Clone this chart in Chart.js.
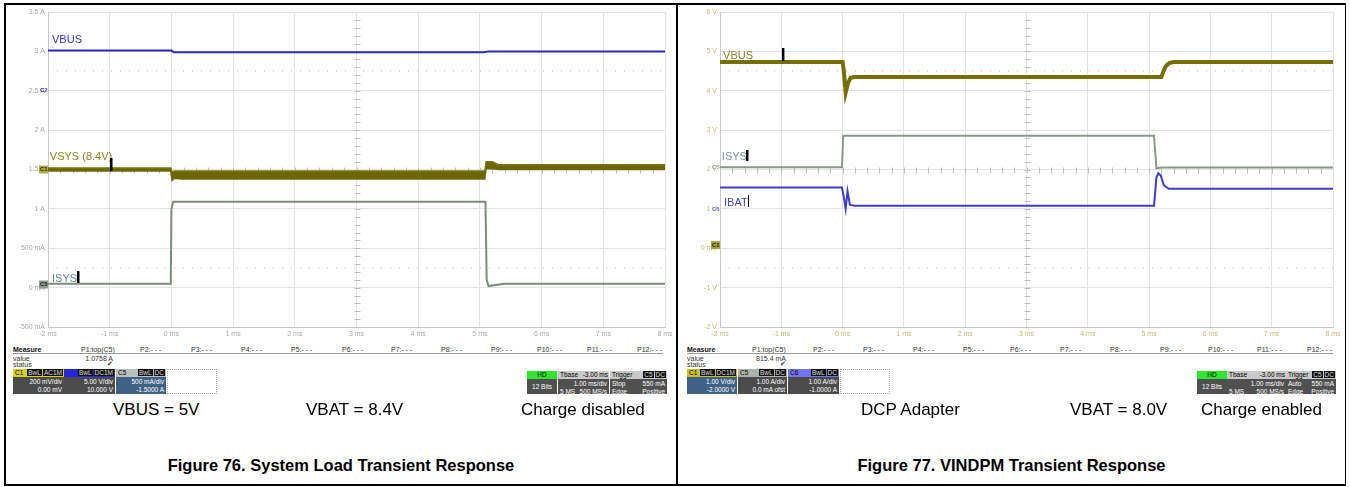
<!DOCTYPE html>
<html>
<head>
<meta charset="utf-8">
<script src="https://cdn.jsdelivr.net/npm/chart.js@4/dist/chart.umd.min.js"></script>
<style>
body{margin:0;width:1350px;height:487px;background:#fff;position:relative;overflow:hidden;font-family:Arial,"Liberation Sans",sans-serif}
.line{position:absolute;background:#000}
.cv{position:absolute}
.cap{position:absolute;font-size:17px;color:#000;white-space:nowrap;top:400px}
.title{position:absolute;font-size:16.5px;font-weight:bold;white-space:nowrap;top:456px;text-align:center}
.m{position:absolute;font-size:7px;color:#333;white-space:nowrap;line-height:7px}
.ul{position:absolute;height:1px;background:#999}
.ch{position:absolute;top:369px;height:25px;font-size:6.5px;overflow:hidden;white-space:nowrap}
.chh{height:8px;line-height:8px;padding:0 1px 0 2px;color:#000;display:flex;justify-content:space-between}
.tag{background:#111;color:#ddd;padding:0 1px;margin-left:1px}
.chb{height:16px;background:#4b4b4b;color:#fff;text-align:right;line-height:8px;padding:1px 2px 0 0}
</style>
</head>
<body>
<canvas id="left" class="cv" width="671" height="340" style="left:5px;top:4px"></canvas>
<canvas id="right" class="cv" width="664" height="340" style="left:680px;top:4px"></canvas>
<div id="extra"></div>

<script>
// --- left scope: system load transient (display units of the 500 mA/div grid)
const xTicks = [-2, -1, 0, 1, 2, 3, 4, 5, 6, 7, 8];
const leftYTicks = [-0.5, 0, 0.5, 1, 1.5, 2, 2.5, 3, 3.5];
const leftYLabels = ['-500 mA', '0 mA', '500 mA', '1 A', '1.5 A', '2 A', '2.5 A', '3 A', '3.5 A'];

const lVbusT = [-2, 0, 0.04, 5.06, 5.14, 8];
const lVbusV = [3.01, 3.01, 2.99, 2.99, 3.0, 3.0];

const lVsysT = [-2, -0.01, 0.01, 0.05, 0.15, 5.08, 5.1, 5.2, 5.3, 8];
const lVsysHi = [1.52, 1.52, 1.47, 1.48, 1.48, 1.48, 1.6, 1.6, 1.56, 1.56];
const lVsysLo = [1.48, 1.48, 1.36, 1.39, 1.38, 1.38, 1.51, 1.51, 1.5, 1.5];

const lIsysT = [-2, -0.01, 0.0, 0.03, 5.09, 5.11, 5.14, 5.4, 8];
const lIsysV = [0.05, 0.05, 1.0, 1.09, 1.09, 0.1, 0.02, 0.05, 0.05];

const leftDots = [2.75, 0.25];

// --- right scope: VINDPM transient (1 V/div grid)
const rightYTicks = [-2, -1, 0, 1, 2, 3, 4, 5, 6];
const rightYLabels = ['-2 V', '-1 V', '0 mV', '1 V', '2 V', '3 V', '4 V', '5 V', '6 V'];

const rVbusT = [-2, 0, 0.02, 0.05, 0.09, 0.13, 0.2, 5.2, 5.24, 5.28, 5.33, 5.4, 8];
const rVbusV = [4.73, 4.73, 4.5, 3.95, 4.2, 4.33, 4.35, 4.35, 4.52, 4.64, 4.7, 4.73, 4.73];

const rIsysT = [-2, -0.01, 0.01, 5.08, 5.12, 5.2, 8];
const rIsysV = [2.06, 2.06, 2.86, 2.86, 2.03, 2.05, 2.05];

const rIbatT = [-2, -0.01, 0.02, 0.05, 0.08, 0.12, 0.2, 5.08, 5.12, 5.15, 5.19, 5.24, 5.32, 8];
const rIbatV = [1.54, 1.54, 1.3, 1.0, 1.45, 1.1, 1.08, 1.08, 1.8, 1.9, 1.85, 1.6, 1.51, 1.51];

const rightDots = [4.5, -0.5];

function pts(t, v){ return t.map((x, i) => ({x, y: v[i]})); }
function dotLine(level){
  return {data: [{x:-2, y:level}, {x:8, y:level}], borderColor:'#b8b8b8', borderWidth:1, borderDash:[1,8], pointRadius:0};
}

// text labels, cursor bars, channel tags and centre-line minor ticks
const overlay = {
  id: 'overlay',
  beforeDatasetsDraw(chart, args, o){
    const {ctx, chartArea: a, scales: {x, y}} = chart;
    ctx.save();
    ctx.strokeStyle = '#bdbdbd'; ctx.lineWidth = 1;
    const cx = Math.round(x.getPixelForValue(3)) + 0.5, cy = Math.round(y.getPixelForValue(o.cy)) + 0.5;
    const dx = (a.right - a.left) / 50, dy = (a.bottom - a.top) / 40;
    ctx.beginPath();
    for(let i = 1; i < 40; i++){ const py = Math.round(a.top + i*dy) + 0.5; ctx.moveTo(cx-3, py); ctx.lineTo(cx+3, py); }
    for(let i = 1; i < 50; i++){ const px = Math.round(a.left + i*dx) + 0.5; ctx.moveTo(px, cy-3); ctx.lineTo(px, cy+3); }
    ctx.stroke();
    ctx.restore();
  },
  afterDatasetsDraw(chart, args, o){
    const {ctx, chartArea: a, scales: {x, y}} = chart;
    ctx.save();
    ctx.font = '11px Arial, "Liberation Sans", sans-serif';
    ctx.textBaseline = 'alphabetic';
    o.labels.forEach(l => { ctx.fillStyle = l.color; ctx.fillText(l.text, x.getPixelForValue(l.x), y.getPixelForValue(l.y)); });
    ctx.fillStyle = '#000';
    o.bars.forEach(b => {
      const px = x.getPixelForValue(b.x), t = y.getPixelForValue(b.y1), bt = y.getPixelForValue(b.y0);
      ctx.fillRect(px, t, b.w, bt - t);
    });
    ctx.font = 'bold 6px Arial, "Liberation Sans", sans-serif';
    ctx.textBaseline = 'middle';
    o.tags.forEach(g => {
      const py = y.getPixelForValue(g.y), px = a.left - 9;
      if(g.bg){ ctx.fillStyle = g.bg; ctx.fillRect(px, py - 4, 9, 8); }
      ctx.fillStyle = g.color; ctx.fillText(g.text, px + 1, py);
    });
    ctx.restore();
  }
};

function scopeChart(id, yTicks, yLabels, yLabelColor, xLabelColor, yWidth, datasets, ov){
  return new Chart(document.getElementById(id), {
    type: 'line',
    data: {datasets},
    plugins: [overlay],
    options: {
      responsive: false, animation: false,
      layout: {padding: {left: 0, top: 8, right: 11, bottom: 0}},
      elements: {point: {radius: 0}, line: {tension: 0}},
      plugins: {legend: {display: false}, tooltip: {enabled: false}, overlay: ov},
      scales: {
        x: {
          type: 'linear', min: xTicks[0], max: xTicks[xTicks.length-1],
          afterBuildTicks: s => { s.ticks = xTicks.map(v => ({value: v})); },
          afterFit: s => { s.height = 17; },
          grid: {color: '#e3e3e3', drawTicks: false},
          border: {color: '#c8c8c8'},
          ticks: {padding: 3, color: xLabelColor, font: {size: 7}, maxRotation: 0, callback: v => v + ' ms'}
        },
        y: {
          min: yTicks[0], max: yTicks[yTicks.length-1],
          afterBuildTicks: s => { s.ticks = yTicks.map(v => ({value: v})); },
          afterFit: s => { s.width = yWidth; },
          grid: {color: '#e3e3e3', drawTicks: false},
          border: {color: '#c8c8c8'},
          ticks: {padding: 3, color: yLabelColor, font: {size: 7}, callback: v => yLabels[yTicks.indexOf(v)]}
        }
      }
    }
  });
}

scopeChart('left', leftYTicks, leftYLabels, '#a8a8a8', '#a8a8a8', 43, [
  dotLine(leftDots[0]), dotLine(leftDots[1]),
  {data: pts(lVsysT, lVsysLo), borderColor:'#6f6a08', borderWidth:1.5},
  {data: pts(lVsysT, lVsysHi), borderColor:'#7a7410', borderWidth:1.5, fill:'-1', backgroundColor:'#6c6606'},
  {data: pts(lVbusT, lVbusV), borderColor:'#2b2bc4', borderWidth:2},
  {data: pts(lIsysT, lIsysV), borderColor:'#7b8e7e', borderWidth:2}
], {
  cy: 1.5,
  labels: [
    {text:'VBUS', x:-1.935, y:3.106, color:'#3535c0'},
    {text:'VSYS (8.4V)', x:-1.97, y:1.615, color:'#8c8424'},
    {text:'ISYS', x:-1.935, y:0.07, color:'#5f8a8c'}
  ],
  bars: [
    {x:-0.995, y0:1.48, y1:1.645, w:2.5},
    {x:-1.53, y0:0.06, y1:0.21, w:2.5}
  ],
  tags: [
    {text:'C2', y:2.5, color:'#3b3bd0'},
    {text:'C1', y:1.5, color:'#222', bg:'#b0aa40'},
    {text:'C5', y:0.04, color:'#222', bg:'#8d9c8e'}
  ]
});

scopeChart('right', rightYTicks, rightYLabels, '#c4bc6c', '#c4bc6c', 40, [
  dotLine(rightDots[0]), dotLine(rightDots[1]),
  {data: pts(rVbusT, rVbusV), borderColor:'#756f06', borderWidth:4},
  {data: pts(rIsysT, rIsysV), borderColor:'#889a8a', borderWidth:2},
  {data: pts(rIbatT, rIbatV), borderColor:'#3c3cd2', borderWidth:2}
], {
  cy: 2,
  labels: [
    {text:'VBUS', x:-1.95, y:4.806, color:'#8c8424'},
    {text:'ISYS', x:-1.97, y:2.24, color:'#6a96a8'},
    {text:'IBAT', x:-1.935, y:1.073, color:'#4646d0'}
  ],
  bars: [
    {x:-0.99, y0:4.756, y1:5.086, w:2.5},
    {x:-1.576, y0:2.216, y1:2.495, w:2.5},
    {x:-1.543, y0:1.05, y1:1.35, w:1}
  ],
  tags: [
    {text:'C5', y:2.05, color:'#9aa89a'},
    {text:'C6', y:1.0, color:'#6a6ae0'},
    {text:'C1', y:0.08, color:'#222', bg:'#aaa23a'}
  ]
});

// --- scope status bars, captions, frame
function el(cls, style, html){ return `<div class="${cls}" style="${style}">${html}</div>`; }
function chBox(x, w, head, headBg, right, body, bodyBg, extra){
  return `<div class="ch" style="left:${x}px;width:${w}px;${extra||''}"><div class="chh" style="background:${headBg}"><span>${head}</span><span>${right}</span></div><div class="chb" style="background:${bodyBg}">${body}</div></div>`;
}
function tags(list){ return list.map(t => `<span class="tag">${t}</span>`).join(''); }
function statusPanel(p){
  let h = el('m', `left:${p.mx}px;top:346px;font-weight:bold;color:#111`, 'Measure');
  p.px.forEach((x, i) => { h += el('m', `left:${x}px;top:346px`, i === 0 ? 'P1:top(C5)' : `P${i+1}:- - -`); });
  h += el('ul', `left:${p.mx}px;top:353px;width:${p.ulw}px`, '');
  h += el('m', `left:${p.mx}px;top:355px`, 'value');
  h += el('m', `left:${p.vx}px;top:355px;width:40px;text-align:right`, p.value);
  h += el('m', `left:${p.mx}px;top:361px`, 'status');
  h += el('m', `left:${p.vx+34}px;top:360px`, '✔');
  p.boxes.forEach(b => { h += chBox(b[0], b[1], b[2], b[3], tags(b[4]), b[5], b[6], b[7]); });
  h += `<div class="ch" style="left:${p.dx}px;width:50px;border:1px dotted #aaa;box-sizing:border-box"></div>`;
  h += `<div class="ch" style="left:${p.hx}px;width:30px;top:371px;height:23px;text-align:center;background:#505050;color:#fff"><div style="background:#2ee62e;color:#000;height:8px;line-height:8px">HD</div><div style="line-height:15px">12 Bits</div></div>`;
  h += chBox(p.tx, p.tw, 'Tbase', '#c9c9c9', '-3.00 ms', '1.00 ms/div<br><span style="float:left;padding-left:2px">5 MS</span>500 MS/s', '#505050', 'top:371px;height:23px');
  h += chBox(p.gx, p.gw, 'Trigger', '#c9c9c9', tags(['C5','DC']), `<span style="float:left;padding-left:2px">${p.mode}</span>550 mA<br><span style="float:left;padding-left:2px">Edge</span>Positive`, '#505050', 'top:371px;height:23px');
  return h;
}

let html = '';
html += el('line', 'left:4px;top:3px;width:1342px;height:1.5px', '');
html += el('line', 'left:4px;top:484px;width:1342px;height:1.5px', '');
html += el('line', 'left:4px;top:3px;width:1.5px;height:482px', '');
html += el('line', 'left:1344.5px;top:3px;width:1.5px;height:482px', '');
html += el('line', 'left:676px;top:3px;width:1.5px;height:482px', '');

html += statusPanel({
  mx: 13, ulw: 650, vx: 73, value: '1.0758 A',
  px: [81, 140, 191, 241, 291, 342, 391, 441, 491, 537, 587, 637],
  boxes: [
    [13, 51, 'C1', '#d6d21e', ['BwL','AC1M'], '200 mV/div<br>0.00 mV', '#4b4b4b'],
    [64, 51, '&nbsp;', '#2626d6', ['BwL','DC1M'], '5.00 V/div<br>10.000 V', '#4b4b4b'],
    [116, 50, 'C5', '#b9c3bb', ['BwL','DC'], '500 mA/div<br>-1.5000 A', '#3f6185', 'box-shadow:inset 0 0 0 1px #5a8ac0']
  ],
  dx: 167, hx: 527, tx: 558, tw: 51, gx: 610, gw: 57, mode: 'Stop'
});
html += statusPanel({
  mx: 687, ulw: 646, vx: 746, value: '815.4 mA',
  px: [752, 813, 863, 913, 963, 1010, 1060, 1110, 1160, 1208, 1257, 1307],
  boxes: [
    [687, 50, 'C1', '#c9c21e', ['BwL','DC1M'], '1.00 V/div<br>-2.0000 V', '#3f6185', 'box-shadow:inset 0 0 0 1px #5a8ac0'],
    [738, 49, 'C5', '#aab3ab', ['BwL','DC'], '1.00 A/div<br>0.0 mA ofst', '#4b4b4b'],
    [788, 51, 'C6', '#7474f2', ['BwL','DC'], '1.00 A/div<br>-1.0000 A', '#4b4b4b']
  ],
  dx: 840, hx: 1197, tx: 1227, tw: 59, gx: 1286, gw: 50, mode: 'Auto'
});

html += el('cap', 'left:113px', 'VBUS = 5V');
html += el('cap', 'left:306px', 'VBAT = 8.4V');
html += el('cap', 'left:521px', 'Charge disabled');
html += el('cap', 'left:861px', 'DCP Adapter');
html += el('cap', 'left:1070px', 'VBAT = 8.0V');
html += el('cap', 'left:1201px', 'Charge enabled');
html += el('title', 'left:6px;width:670px', 'Figure 76. System Load Transient Response');
html += el('title', 'left:678px;width:667px', 'Figure 77. VINDPM Transient Response');
document.getElementById('extra').innerHTML = html;
</script>
</body>
</html>
